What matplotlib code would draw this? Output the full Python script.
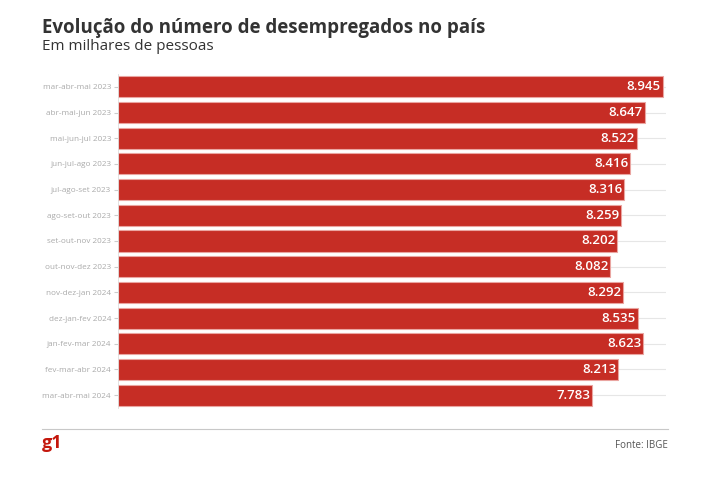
import matplotlib.pyplot as plt

categorias = [
    "mar-abr-mai 2023", "abr-mai-jun 2023", "mai-jun-jul 2023", "jun-jul-ago 2023",
    "jul-ago-set 2023", "ago-set-out 2023", "set-out-nov 2023", "out-nov-dez 2023",
    "nov-dez-jan 2024", "dez-jan-fev 2024", "jan-fev-mar 2024", "fev-mar-abr 2024",
    "mar-abr-mai 2024",
]
valores = [8.945, 8.647, 8.522, 8.416, 8.316, 8.259, 8.202, 8.082, 8.292, 8.535, 8.623, 8.213, 7.783]

plt.rcParams["font.family"] = ["Open Sans", "DejaVu Sans"]

fig = plt.figure(figsize=(7.1, 4.83), dpi=100)
W, H = 710, 483
ax = fig.add_axes([118 / W, 1 - 408 / H, 548 / W, 334 / H])

y = list(range(len(categorias)))
for yi in y:
    ax.axhline(yi, color="#e6e6e6", lw=0.8, zorder=0)
ax.barh(y, valores, height=0.82, color="#c62d25", edgecolor="#eaa5a1", linewidth=0.8, zorder=2)
for yi, v in zip(y, valores):
    ax.text(v - 0.03, yi, f"{v:.3f}", ha="right", va="center", color="white",
            fontsize=9.5, fontweight="semibold", zorder=3)

ax.set_xlim(0, 9.0)
ax.set_ylim(len(categorias) - 0.5, -0.5)
ax.set_yticks(y)
ax.set_yticklabels(categorias, fontsize=5.9, color="#aaaaaa")
ax.tick_params(axis="y", length=3, color="#cccccc", pad=2)
ax.set_xticks([])
for s in ["top", "right", "bottom"]:
    ax.spines[s].set_visible(False)
ax.spines["left"].set_color("#dddddd")
ax.spines["left"].set_linewidth(0.6)

fig.text(42 / W, 1 - 28 / H, "Evolução do número de desempregados no país", fontsize=13.5,
         fontweight="bold", color="#333333", va="center")
fig.text(42 / W, 1 - 47 / H, "Em milhares de pessoas", fontsize=11, color="#333333", va="center")

fig.add_artist(plt.Line2D([42 / W, 668 / W], [1 - 429 / H, 1 - 429 / H], color="#c8c8c8", lw=0.8))
fig.text(42 / W, 1 - 443 / H, "g1", fontsize=13, fontweight="bold", color="#c4170c", va="center")
fig.text(668 / W, 1 - 445 / H, "Fonte: IBGE", fontsize=7, color="#555555", va="center", ha="right")

fig.savefig("out.png", dpi=100, facecolor="white")
